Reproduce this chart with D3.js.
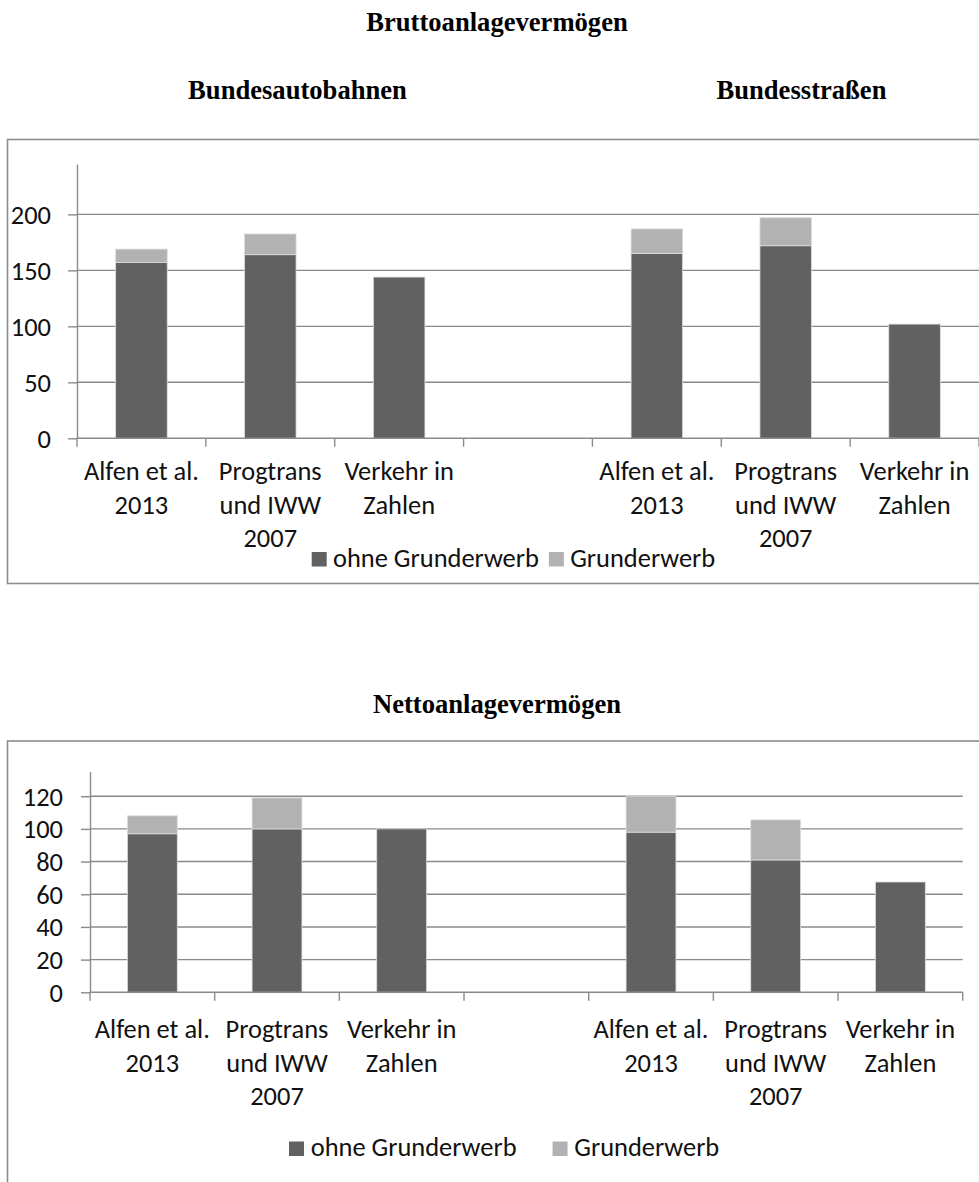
<!DOCTYPE html>
<html>
<head>
<meta charset="utf-8">
<script src="https://cdn.jsdelivr.net/npm/d3@7"></script>
<style>
  html, body { margin: 0; padding: 0; background: #fff; }
  svg { display: block; }
</style>
</head>
<body>
<svg id="chart" width="979" height="1182"></svg>
<script>
// ---------------- data ----------------
const slots = ["BAB_Alfen", "BAB_Progtrans", "BAB_VIZ", "gap", "BS_Alfen", "BS_Progtrans", "BS_VIZ"];
const slotLabels = [
  ["Alfen et al.", "2013"],
  ["Progtrans", "und IWW", "2007"],
  ["Verkehr in", "Zahlen"],
  [],
  ["Alfen et al.", "2013"],
  ["Progtrans", "und IWW", "2007"],
  ["Verkehr in", "Zahlen"]
];
const seriesNames = ["ohne Grunderwerb", "Grunderwerb"];
const groupTitles = ["Bundesautobahnen", "Bundesstraßen"];

const bruttoOhne = [157, 164, 144, null, 165, 172, 102];
const bruttoGrund = [12, 18.5, 0, null, 22, 25, 0];
const nettoOhne = [97, 100, 100, null, 98, 81, 67.5];
const nettoGrund = [11, 19, 0, null, 22, 24.5, 0];

const bruttoTicks = [0, 50, 100, 150, 200];
const nettoTicks = [0, 20, 40, 60, 80, 100, 120];

// ---------------- style ----------------
const COL_DARK = "#616161";
const COL_LIGHT = "#b2b2b2";
const COL_GRID = "#8a8a8a";
const COL_FRAME = "#8c8c8c";
const SERIF = "'Liberation Serif', 'Times New Roman', serif";
const SANS = "Carlito, Calibri, Lato, sans-serif";

const svg = d3.select("#chart");

// calibrate sans font size so that "ohne Grunderwerb" is ~206px wide (as in the reference)
const probe = svg.append("text").attr("font-family", SANS).attr("font-size", 100).text("ohne Grunderwerb");
const probeW = probe.node().getComputedTextLength();
probe.remove();
const FS = Math.min(26.7, 206 / probeW * 100);

function drawChart(cfg) {
  const g = svg.append("g");

  // frame
  g.append("rect")
    .attr("x", cfg.frame.x).attr("y", cfg.frame.y)
    .attr("width", cfg.frame.w).attr("height", cfg.frame.h)
    .attr("fill", "none").attr("stroke", COL_FRAME).attr("stroke-width", 1.6);

  const y = d3.scaleLinear().domain([0, cfg.yMax]).range([cfg.y0, cfg.yTop]);
  const xSlot = d3.scaleBand().domain(slots).range([cfg.x0, cfg.x1]).padding(0);
  const xBar = d3.scaleBand().domain(slots).range([cfg.x0, cfg.x1]).paddingInner(0.6).paddingOuter(0.3);

  // gridlines
  g.append("g")
    .selectAll("line").data(cfg.ticks.filter(t => t > 0)).join("line")
    .attr("x1", cfg.x0).attr("x2", cfg.x1)
    .attr("y1", d => y(d)).attr("y2", d => y(d))
    .attr("stroke", COL_GRID).attr("stroke-width", 1.4);

  // stacked bars
  const rows = slots.map((s, i) => ({ slot: s, ohne: cfg.ohne[i], grund: cfg.grund[i] }))
    .filter(d => d.ohne !== null);
  const stack = d3.stack().keys(["ohne", "grund"]);
  const stacked = stack(rows);
  const colors = [COL_DARK, COL_LIGHT];
  g.append("g").selectAll("g").data(stacked).join("g")
    .attr("fill", (d, i) => colors[i])
    .selectAll("rect").data(d => d.filter(p => p[1] - p[0] > 0)).join("rect")
    .attr("x", d => xBar(d.data.slot))
    .attr("width", xBar.bandwidth())
    .attr("y", d => y(d[1]))
    .attr("height", d => y(d[0]) - y(d[1]))
    .attr("stroke", "#dcdcdc").attr("stroke-width", 0.8);

  // y axis
  const yAxis = d3.axisLeft(y).tickValues(cfg.ticks).tickSize(9).tickSizeOuter(0).tickPadding(cfg.tickPad);
  const ya = g.append("g").attr("transform", `translate(${cfg.x0},0)`).call(yAxis);
  ya.selectAll("path, line").attr("stroke", COL_GRID).attr("stroke-width", 1.4);
  ya.selectAll("text").attr("font-family", SANS).attr("font-size", FS).attr("fill", "#111").attr("dy", "0.34em");

  // x axis line + boundary ticks
  const xa = g.append("g");
  xa.append("line").attr("x1", cfg.x0).attr("x2", cfg.x1).attr("y1", cfg.y0).attr("y2", cfg.y0)
    .attr("stroke", COL_GRID).attr("stroke-width", 1.4);
  const bounds = slots.map(s => xSlot(s)).concat([xSlot(slots[slots.length - 1]) + xSlot.step()]);
  xa.selectAll("line.tk").data(bounds).join("line").attr("class", "tk")
    .attr("x1", d => d).attr("x2", d => d).attr("y1", cfg.y0).attr("y2", cfg.y0 + 8.5)
    .attr("stroke", COL_GRID).attr("stroke-width", 1.4);

  // category labels
  slots.forEach((s, i) => {
    const cx = xSlot(s) + xSlot.bandwidth() / 2;
    slotLabels[i].forEach((line, j) => {
      g.append("text").attr("x", cx).attr("y", cfg.labelBase + j * cfg.lineH)
        .attr("text-anchor", "middle").attr("font-family", SANS).attr("font-size", FS)
        .attr("fill", "#111").text(line);
    });
  });

  // legend
  let lx = cfg.legend.x;
  seriesNames.forEach((name, i) => {
    g.append("rect").attr("x", lx).attr("y", cfg.legend.base - 14.5).attr("width", 15).attr("height", 14.5)
      .attr("fill", colors[i]);
    const t = g.append("text").attr("x", lx + 15 + cfg.legend.textGap).attr("y", cfg.legend.base)
      .attr("font-family", SANS).attr("font-size", FS).attr("fill", "#111").text(name);
    lx = lx + 15 + cfg.legend.textGap + t.node().getComputedTextLength() + cfg.legend.itemGap;
  });
}

// titles
function title(txt, x, yb) {
  svg.append("text").attr("x", x).attr("y", yb).attr("text-anchor", "middle")
    .attr("font-family", SERIF).attr("font-weight", "bold").attr("font-size", 26.6)
    .attr("fill", "#000").text(txt);
}
title("Bruttoanlagevermögen", 497, 31);
title(groupTitles[0], 297.5, 98.5);
title(groupTitles[1], 801.5, 98.5);
title("Nettoanlagevermögen", 497, 713);

drawChart({
  frame: { x: 7.5, y: 139.5, w: 1000, h: 444 },
  yMax: 245, y0: 438.3, yTop: 164,
  x0: 77, x1: 979,
  ticks: bruttoTicks, tickPad: 17,
  ohne: bruttoOhne, grund: bruttoGrund,
  labelBase: 480, lineH: 33.5,
  legend: { x: 311.7, base: 566.5, textGap: 6.3, itemGap: 10 }
});

drawChart({
  frame: { x: 7.5, y: 741, w: 1000, h: 500 },
  yMax: 135, y0: 992.3, yTop: 771.7,
  x0: 90, x1: 962.7,
  ticks: nettoTicks, tickPad: 18,
  ohne: nettoOhne, grund: nettoGrund,
  labelBase: 1038, lineH: 33.5,
  legend: { x: 289, base: 1156, textGap: 6.7, itemGap: 36 }
});
</script>
</body>
</html>
